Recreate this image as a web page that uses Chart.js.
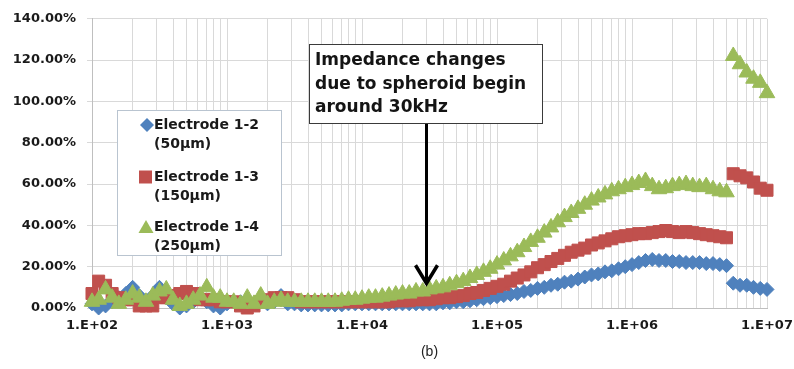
<!DOCTYPE html>
<html><head><meta charset="utf-8">
<script src="https://cdn.jsdelivr.net/npm/chart.js@4.4.1/dist/chart.umd.min.js"></script>
<style>html,body{margin:0;padding:0;background:#fff;}canvas{display:block}</style>
</head><body>
<canvas id="c" width="794" height="369" style="width:794px;height:369px"></canvas>
<script>
// ---- data (frequency in Hz, impedance change in %) ----
const frequencies = [
  100,112,126,141,158,178,200,224,251,282,316,355,398,447,501,562,631,708,794,891,
  1000,1122,1259,1413,1585,1778,1995,2239,2512,2818,3162,3548,3981,4467,5012,5623,6310,7079,7943,8913,
  10000,11220,12589,14125,15849,17783,19953,22387,25119,28184,31623,35481,39811,44668,50119,56234,63096,70795,79433,89125,
  100000,112202,125893,141254,158489,177828,199526,223872,251189,281838,316228,354813,398107,446684,501187,562341,630957,707946,794328,891251,
  1000000,1122018,1258925,1412538,1584893,1778279,1995262,2238721,2511886,2818383,3162278,3548134,3981072,4466836,5011872,5623413,6309573,7079458,7943282,8912509,
  10000000
];
const electrode12 = [
  2,0,1,3,5,7,10,6,3,6,10,5,2,0,1,3,5,3,1,0,2,
  3,3,4,2,3,2,3,6,2,2,1.5,1.5,1.5,1.5,1.5,1.5,1.5,2,2,2,
  2,2,2,2,2,2,2,2,2,2,2,2.5,2.5,3,3,3.5,4,4.5,5,5.5,
  6,6.5,7,8,8.5,9.5,10,11,11.5,12.5,13,14,15,16,16.5,17.5,18,19,20,21,
  22,23,23.5,23,23,22.5,22.5,22,22,22,21.5,21.5,21,20.5,
  12,11,11,10,9.5,9
];
const electrode13 = [
  7,13,11,7,5,4,4,1,1,1,5,5,6,7,8,7,4,4,4,3,3,
  3,1,0,1,3,4,5,5,5,4,3,3,3,3,3,3,3,3,3,3,
  3,3,3,3,3.5,3.5,3.5,4,4,4,4.5,5,5,5.5,6,7,7.5,8.5,9.5,10.5,
  11.5,13,14.5,16,17.5,19.5,21,22.5,24,25.5,27,28,29,30.5,31.5,32.5,33.5,34.5,35,35.5,
  36,36,36.5,37,37.5,37,36.5,37,36.5,36,35.5,35,34.5,34,
  65,64,63,61,58,57
];
const electrode14 = [
  3,4,9,5,2,4,7,5,3,6,8,9,4,1,2,4,6,10,5,5,3,
  3,2,5,2,6,2,3,4,3,3,3,3,3,3,3,3,3.5,4,4,4.5,
  5,5,5.5,6,6.5,7,7,8,8,9,9.5,10,11,12,13,14.5,16,17.5,19,21,
  23,25,27,29.5,32,34,36.5,39,41.5,44,46,48,50,52,53.5,55,56.5,57.5,58.5,59.5,
  60.5,61.5,59,57.5,58,59,59.5,60,59,58.5,59,57.5,56.5,56,
  122,118,114,111,109,104
];
const seriesLabels = [['Electrode 1-2', '(50µm)'], ['Electrode 1-3', '(150µm)'], ['Electrode 1-4', '(250µm)']];
const seriesColors = ['#4F81BD', '#C0504D', '#9BBB59'];
const yTickValues = [0, 20, 40, 60, 80, 100, 120, 140];
const xDecades = [100, 1000, 10000, 100000, 1000000, 10000000];
const xDecadeLabels = ['1.E+02', '1.E+03', '1.E+04', '1.E+05', '1.E+06', '1.E+07'];
const xGridMultipliers = [1, 2, 3, 4, 5, 6, 7, 8, 9];
const annotationLines = ['Impedance changes', 'due to spheroid begin', 'around 30kHz'];
const annotationFrequency = 30000;
const arrowTipValue = 11;
const panelLabel = '(b)';

// ---- chart ----
const FONT = '"DejaVu Sans", sans-serif';
const xGridValues = [];
xDecades.slice(0, -1).forEach(d => xGridMultipliers.forEach(m => xGridValues.push(d * m)));
xGridValues.push(xDecades[xDecades.length - 1]);

function pts(arr) { return frequencies.map((f, i) => ({x: f, y: arr[i]})); }
function ds(label, arr, color, style, radius, order) {
  return {label, data: pts(arr), backgroundColor: color, borderColor: color, borderWidth: 1,
    pointStyle: style, pointRadius: radius, showLine: false, order, clip: false};
}

const overlay = {
  id: 'overlay',
  afterDraw(chart) {
    const ctx = chart.ctx, xs = chart.scales.x, ys = chart.scales.y, ca = chart.chartArea;
    ctx.save();
    // legend box
    ctx.fillStyle = '#fff'; ctx.strokeStyle = '#b9c4d0'; ctx.lineWidth = 1;
    ctx.fillRect(117.5, 110.5, 164, 145); ctx.strokeRect(117.5, 110.5, 164, 145);
    const rows = [125, 177, 227];
    rows.forEach((cy, k) => {
      ctx.fillStyle = seriesColors[k];
      ctx.beginPath();
      if (k === 0) { ctx.moveTo(147, cy - 7); ctx.lineTo(154, cy); ctx.lineTo(147, cy + 7); ctx.lineTo(140, cy); }
      else if (k === 1) { ctx.rect(139, cy - 6.5, 13, 13); }
      else { ctx.moveTo(146, cy - 7); ctx.lineTo(153.5, cy + 6); ctx.lineTo(138.5, cy + 6); }
      ctx.closePath(); ctx.fill();
      ctx.fillStyle = '#1a1a1a'; ctx.font = 'bold 14px ' + FONT;
      ctx.textBaseline = 'middle'; ctx.textAlign = 'left';
      ctx.fillText(seriesLabels[k][0], 154, cy);
      ctx.fillText(seriesLabels[k][1], 154, cy + 19);
    });
    // annotation box
    ctx.fillStyle = '#fff'; ctx.strokeStyle = '#3a3a3a';
    ctx.fillRect(309.5, 44.5, 233, 79); ctx.strokeRect(309.5, 44.5, 233, 79);
    ctx.fillStyle = '#141414'; ctx.font = 'bold 17px ' + FONT;
    ctx.textBaseline = 'middle'; ctx.textAlign = 'left';
    annotationLines.forEach((t, i) => ctx.fillText(t, 315, 61 + i * 23.5));
    // arrow
    const ax = Math.round(xs.getPixelForValue(annotationFrequency)) + 0.5;
    const ty = ys.getPixelForValue(arrowTipValue);
    ctx.strokeStyle = '#000'; ctx.lineWidth = 3;
    ctx.beginPath(); ctx.moveTo(ax, 124); ctx.lineTo(ax, ty - 2); ctx.stroke();
    ctx.lineWidth = 3.5; ctx.lineJoin = 'miter';
    ctx.beginPath(); ctx.moveTo(ax - 11, ty - 20); ctx.lineTo(ax, ty - 2); ctx.lineTo(ax + 11, ty - 20); ctx.stroke();
    // panel label
    ctx.fillStyle = '#222'; ctx.font = '14px "Liberation Sans", Arial, sans-serif';
    ctx.textAlign = 'center';
    ctx.fillText(panelLabel, (ca.left + ca.right) / 2, 352);
    ctx.restore();
  }
};

new Chart(document.getElementById('c'), {
  type: 'scatter',
  data: {datasets: [
    ds(seriesLabels[0].join(' '), electrode12, seriesColors[0], 'rectRot', 7, 3),
    ds(seriesLabels[1].join(' '), electrode13, seriesColors[1], 'rect', 8.5, 2),
    ds(seriesLabels[2].join(' '), electrode14, seriesColors[2], 'triangle', 9, 1)
  ]},
  options: {
    responsive: false, animation: false, devicePixelRatio: 1, events: [],
    layout: {padding: {left: 0, right: 0, top: 17, bottom: 0}},
    plugins: {legend: {display: false}, tooltip: {enabled: false}, title: {display: false}},
    scales: {
      x: {
        type: 'logarithmic', min: 100, max: 10000000,
        afterBuildTicks: s => { s.ticks = xGridValues.map(v => ({value: v})); },
        afterFit: s => { s.height = 61; s.paddingLeft = 0; s.paddingRight = 27; },
        grid: {color: '#d9d9d9', lineWidth: 1, drawTicks: false},
        border: {color: '#bfbfbf'},
        ticks: {
          autoSkip: false, maxRotation: 0, padding: 10, color: '#1a1a1a',
          font: {family: FONT, size: 13, weight: 'bold'},
          callback: v => { const k = xDecades.indexOf(v); return k >= 0 ? xDecadeLabels[k] : ''; }
        }
      },
      y: {
        min: 0, max: 140,
        afterBuildTicks: s => { s.ticks = yTickValues.map(v => ({value: v})); },
        afterFit: s => { s.width = 92; },
        grid: {color: '#d9d9d9', lineWidth: 1, tickLength: 5},
        border: {color: '#bfbfbf'},
        ticks: {
          padding: 11, color: '#1a1a1a',
          font: {family: FONT, size: 13, weight: 'bold'},
          callback: v => v.toFixed(2) + '%'
        }
      }
    }
  },
  plugins: [overlay]
});
</script>
</body></html>
